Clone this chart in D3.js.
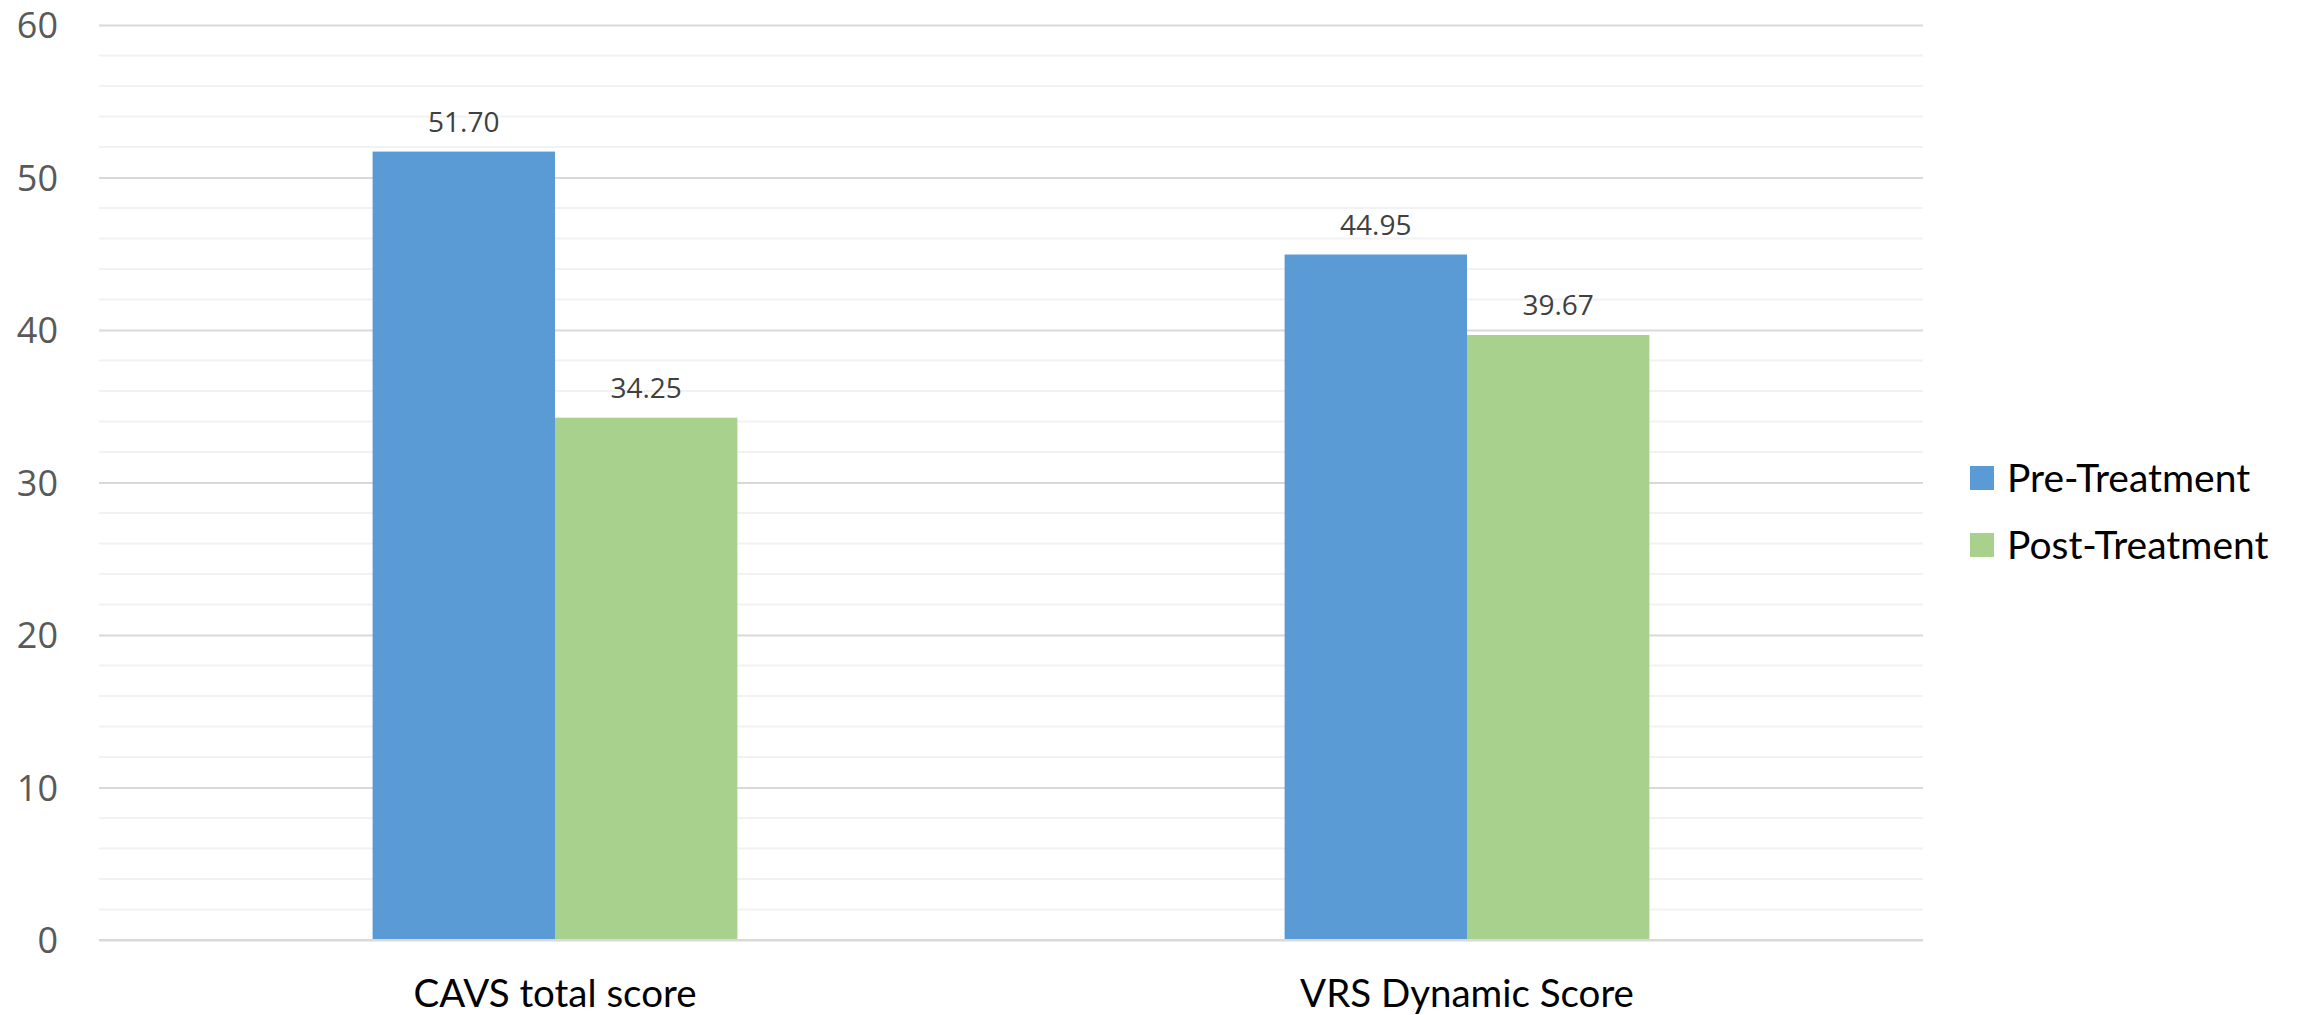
<!DOCTYPE html>
<html>
<head>
<meta charset="utf-8">
<script src="https://cdn.jsdelivr.net/npm/d3@7"></script>
<style>
  html, body { margin: 0; padding: 0; background: #fff; }
  .y-axis text { font-family: 'Open Sans', sans-serif; font-size: 36px; fill: #595959; }
  .x-axis text { font-family: Lato, sans-serif; font-size: 38.5px; fill: #000; }
  .value-label { font-family: 'Open Sans', sans-serif; font-size: 28px; fill: #404040; }
  .legend text { font-family: Lato, sans-serif; font-size: 39px; fill: #000; }
</style>
</head>
<body>
<div id="chart"></div>
<script>
const categories = ['CAVS total score', 'VRS Dynamic Score'];
const seriesNames = ['Pre-Treatment', 'Post-Treatment'];
const preValues = [51.70, 44.95];
const postValues = [34.25, 39.67];
const yTicks = [0, 10, 20, 30, 40, 50, 60];
const colors = ['#5B9BD5', '#A9D18E'];

const width = 2306;
const height = 1015;
const margin = { top: 25, right: 383, bottom: 75, left: 99 };
const innerW = width - margin.left - margin.right;
const innerH = height - margin.top - margin.bottom;

const rows = categories.map((c, i) => ({ category: c, values: [preValues[i], postValues[i]] }));

const svg = d3.select('#chart')
  .append('svg')
  .attr('width', width)
  .attr('height', height)
  .append('g')
  .attr('transform', `translate(${margin.left},${margin.top})`);

const x0 = d3.scaleBand()
  .domain(categories)
  .range([0, innerW])
  .paddingInner(0)
  .paddingOuter(0);

const x1 = d3.scaleBand()
  .domain(seriesNames)
  .range([x0.bandwidth() * 0.3, x0.bandwidth() * 0.7]);

const y = d3.scaleLinear()
  .domain([0, 60])
  .range([innerH, 0]);

// minor gridlines
svg.append('g')
  .attr('class', 'grid-minor')
  .selectAll('line')
  .data(d3.range(0, 61, 2).filter((v) => v % 10 !== 0))
  .enter().append('line')
  .attr('x1', 0)
  .attr('x2', innerW)
  .attr('y1', (d) => y(d))
  .attr('y2', (d) => y(d))
  .attr('stroke', '#f2f2f2')
  .attr('stroke-width', 2);

// major gridlines
svg.append('g')
  .attr('class', 'grid')
  .call(d3.axisLeft(y).tickValues(yTicks).tickSize(-innerW).tickFormat(''))
  .call((g) => g.select('.domain').remove())
  .call((g) => g.selectAll('line').attr('stroke', '#d9d9d9').attr('stroke-width', 2));

// bars
const groups = svg.selectAll('.group')
  .data(rows)
  .enter().append('g')
  .attr('class', 'group')
  .attr('transform', (d) => `translate(${x0(d.category)},0)`);

groups.selectAll('rect')
  .data((d) => d.values.map((v, i) => ({ key: seriesNames[i], value: v, i })))
  .enter().append('rect')
  .attr('x', (d) => x1(d.key))
  .attr('y', (d) => y(d.value))
  .attr('width', x1.bandwidth())
  .attr('height', (d) => innerH - y(d.value))
  .attr('fill', (d) => colors[d.i]);

groups.selectAll('.value-label')
  .data((d) => d.values.map((v, i) => ({ key: seriesNames[i], value: v })))
  .enter().append('text')
  .attr('class', 'value-label')
  .attr('text-anchor', 'middle')
  .attr('x', (d) => x1(d.key) + x1.bandwidth() / 2)
  .attr('y', (d) => y(d.value) - 20)
  .text((d) => d.value.toFixed(2));

// baseline
svg.append('line')
  .attr('x1', 0)
  .attr('x2', innerW)
  .attr('y1', y(0))
  .attr('y2', y(0))
  .attr('stroke', '#d9d9d9')
  .attr('stroke-width', 2);

// Y axis labels
svg.append('g')
  .attr('class', 'y-axis')
  .call(d3.axisLeft(y).tickValues(yTicks).tickSize(0).tickPadding(41))
  .call((g) => g.select('.domain').remove())
  .selectAll('text')
  .attr('dy', '0.35em');

// X axis labels
svg.append('g')
  .attr('class', 'x-axis')
  .attr('transform', `translate(0,${innerH})`)
  .call(d3.axisBottom(x0).tickSize(0).tickPadding(40))
  .call((g) => g.select('.domain').remove());

// legend
const legend = svg.append('g')
  .attr('class', 'legend')
  .attr('transform', `translate(${innerW + 47},${441})`);

const items = legend.selectAll('g')
  .data(seriesNames)
  .enter().append('g')
  .attr('transform', (d, i) => `translate(0,${i * 67})`);

items.append('rect')
  .attr('width', 24)
  .attr('height', 24)
  .attr('fill', (d, i) => colors[i]);

items.append('text')
  .attr('x', 37)
  .attr('y', 12)
  .attr('dy', '0.35em')
  .text((d) => d);
</script>
</body>
</html>
